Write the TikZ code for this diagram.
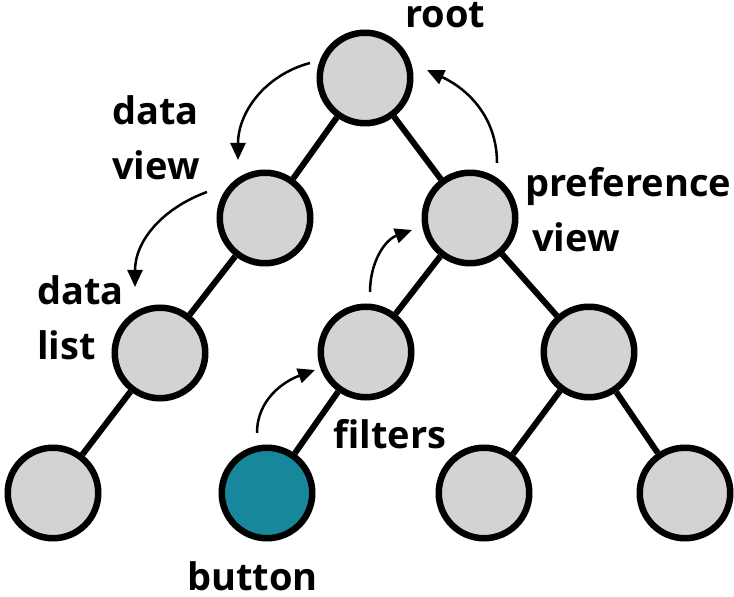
\documentclass[tikz,border=0pt]{standalone}
\usepackage{fontspec}
\setmainfont{Open Sans}
\usetikzlibrary{arrows.meta}
\definecolor{nodegray}{HTML}{D3D3D3}
\definecolor{buttonteal}{HTML}{17879B}

\begin{document}
\begin{tikzpicture}[x=1pt,y=1pt,>={Triangle[length=17pt,width=15pt]},
		vertex/.style={circle,draw,line width=6.5pt,fill=nodegray,minimum size=90.5pt,inner sep=0pt},
		branch/.style={line width=6pt},
		flow/.style={->,line width=2.5pt},
		lbl/.style={font=\fontsize{38}{55}\selectfont\bfseries,inner sep=0pt,align=left,anchor=base west}]
		
		\useasboundingbox (0,0) rectangle (734,597);
		
		% Tree nodes
		\node[vertex] (root)     at (365,519) {};
		\node[vertex] (dataview) at (265,379) {};
		\node[vertex] (prefview) at (470,379) {};
		\node[vertex] (datalist) at (160,244) {};
		\node[vertex] (filters)  at (366,245) {};
		\node[vertex] (rightmid) at (589,245) {};
		\node[vertex] (leafa)    at (53,104) {};
		\node[vertex,fill=buttonteal] (button) at (267,104) {};
		\node[vertex] (leafc)    at (484,104) {};
		\node[vertex] (leafd)    at (685,104) {};
		
		% Branches
		\draw[branch] (root) -- (dataview);
		\draw[branch] (root) -- (prefview);
		\draw[branch] (dataview) -- (datalist);
		\draw[branch] (datalist) -- (leafa);
		\draw[branch] (prefview) -- (filters);
		\draw[branch] (prefview) -- (rightmid);
		\draw[branch] (filters) -- (button);
		\draw[branch] (rightmid) -- (leafc);
		\draw[branch] (rightmid) -- (leafd);
		
		% Labels (base = last line)
		\node[lbl] (rootlbl)   at (405,569) {root};
		\node[lbl] (dvlbl)     at (112,417) {data\\view};
		\node[lbl] (pvlbl)     at (525,345) {preference\\\hspace*{7pt}view};
		\node[lbl] (dllbl)     at (37,237)  {data\\list};
		\node[lbl] (filterlbl) at (333,148) {filters};
		\node[lbl] (buttonlbl) at (187,6)   {button};
		
		% Event flow arrows
		\coordinate (downa) at (310,534);
		\coordinate (downb) at (238,437);
		\coordinate (downc) at (207,405);
		\coordinate (downd) at (135,310);
		\coordinate (upa)   at (257,164);
		\coordinate (upb)   at (315,227);
		\coordinate (upc)   at (370,305);
		\coordinate (upd)   at (412,367);
		\coordinate (upe)   at (497,434);
		\coordinate (upf)   at (427,527);
		\draw[flow] (downa) to[out=195,in=90] (downb);
		\draw[flow] (downc) to[out=200,in=90] (downd);
		\draw[flow] (upa) to[out=90,in=200] (upb);
		\draw[flow] (upc) to[out=90,in=200] (upd);
		\draw[flow] (upe) to[out=90,in=-25] (upf);
		
	\end{tikzpicture}
\end{document}
